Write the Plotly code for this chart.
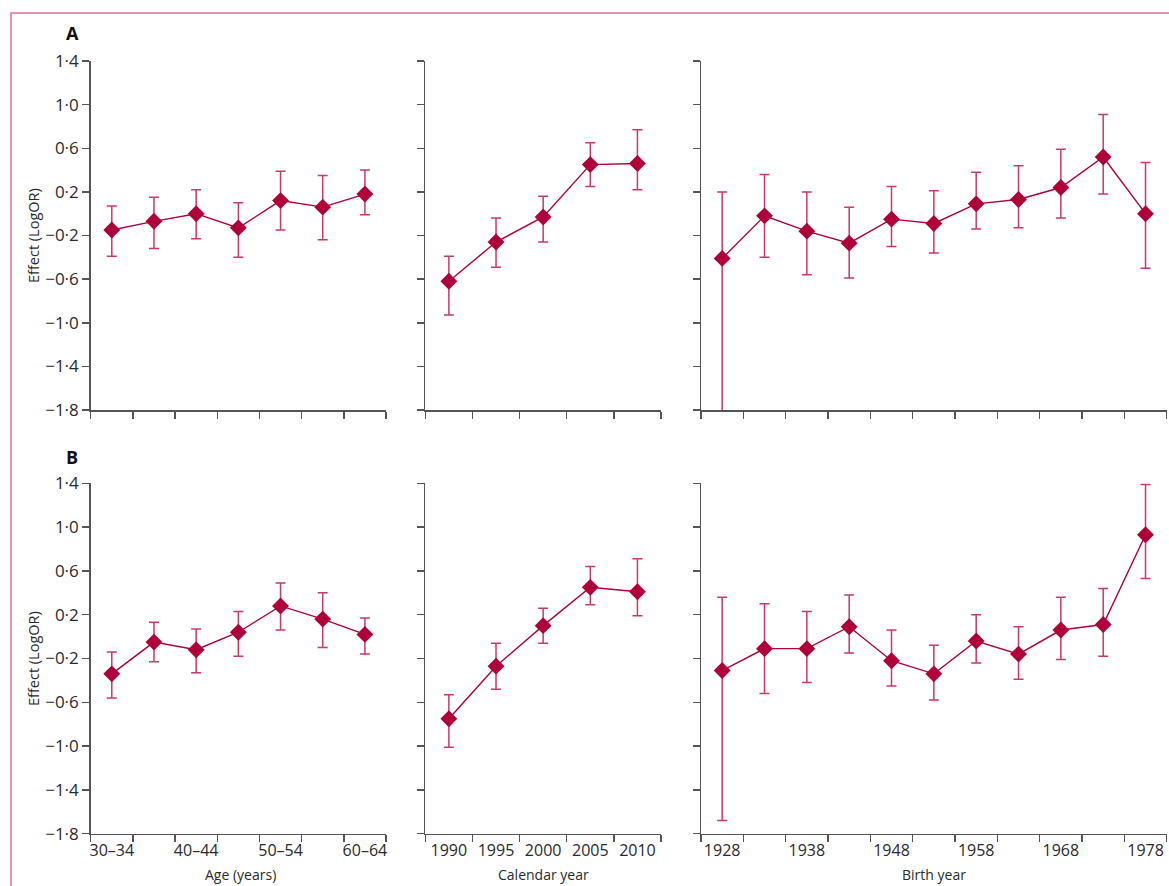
import plotly.graph_objects as go
from plotly.subplots import make_subplots

# ---------------- data ----------------
age_groups = ["30–34", "35–39", "40–44", "45–49", "50–54", "55–59", "60–64"]
age_labels_shown = ["30–34", "40–44", "50–54", "60–64"]
calendar_years = ["1990", "1995", "2000", "2005", "2010"]
birth_years = ["1928", "1933", "1938", "1943", "1948", "1953", "1958", "1963", "1968", "1973", "1978"]
birth_labels_shown = ["1928", "1938", "1948", "1958", "1968", "1978"]

# Panel A
a_age_est = [-0.15, -0.07, 0.00, -0.13, 0.12, 0.06, 0.18]
a_age_lo = [-0.39, -0.32, -0.23, -0.40, -0.15, -0.24, -0.01]
a_age_hi = [0.07, 0.15, 0.22, 0.10, 0.39, 0.35, 0.40]

a_cal_est = [-0.62, -0.26, -0.03, 0.45, 0.46]
a_cal_lo = [-0.93, -0.49, -0.26, 0.25, 0.22]
a_cal_hi = [-0.39, -0.04, 0.16, 0.65, 0.77]

a_birth_est = [-0.41, -0.02, -0.16, -0.27, -0.05, -0.09, 0.09, 0.13, 0.24, 0.52, 0.00]
a_birth_lo = [-1.95, -0.40, -0.56, -0.59, -0.30, -0.36, -0.14, -0.13, -0.04, 0.18, -0.50]
a_birth_hi = [0.20, 0.36, 0.20, 0.06, 0.25, 0.21, 0.38, 0.44, 0.59, 0.91, 0.47]

# Panel B
b_age_est = [-0.34, -0.05, -0.12, 0.04, 0.28, 0.16, 0.02]
b_age_lo = [-0.56, -0.23, -0.33, -0.18, 0.06, -0.10, -0.16]
b_age_hi = [-0.14, 0.13, 0.07, 0.23, 0.49, 0.40, 0.17]

b_cal_est = [-0.75, -0.27, 0.10, 0.45, 0.41]
b_cal_lo = [-1.01, -0.48, -0.06, 0.29, 0.19]
b_cal_hi = [-0.53, -0.06, 0.26, 0.64, 0.71]

b_birth_est = [-0.31, -0.11, -0.11, 0.09, -0.22, -0.34, -0.04, -0.16, 0.06, 0.11, 0.93]
b_birth_lo = [-1.68, -0.52, -0.42, -0.15, -0.45, -0.58, -0.24, -0.39, -0.21, -0.18, 0.53]
b_birth_hi = [0.36, 0.30, 0.23, 0.38, 0.06, -0.08, 0.20, 0.09, 0.36, 0.44, 1.39]

y_ticks = [-1.8, -1.4, -1.0, -0.6, -0.2, 0.2, 0.6, 1.0, 1.4]
y_ticktext = ["−1·8", "−1·4", "−1·0", "−0·6", "−0·2", "0·2", "0·6", "1·0", "1·4"]

# ---------------- styling ----------------
W, H = 1169, 886
MARK = "#B0003A"
ERR = "#C93A64"
AX = "#555555"
TXT = "#2a2a2a"
FONT = "Open Sans"

def px_x(p):
    return p / W

def px_y(p):
    return 1 - p / H

col_dom = [
    [px_x(90.7), px_x(386.0)],
    [px_x(425.3), px_x(661.0)],
    [px_x(701.0), px_x(1166.7)],
]
row_dom = [
    [px_y(410.0), px_y(61.0)],
    [px_y(833.7), px_y(483.3)],
]

fig = make_subplots(rows=2, cols=3)

panels = [
    (1, 1, age_groups, a_age_est, a_age_lo, a_age_hi),
    (1, 2, calendar_years, a_cal_est, a_cal_lo, a_cal_hi),
    (1, 3, birth_years, a_birth_est, a_birth_lo, a_birth_hi),
    (2, 1, age_groups, b_age_est, b_age_lo, b_age_hi),
    (2, 2, calendar_years, b_cal_est, b_cal_lo, b_cal_hi),
    (2, 3, birth_years, b_birth_est, b_birth_lo, b_birth_hi),
]

shown = {1: age_labels_shown, 2: calendar_years, 3: birth_labels_shown}

for r, c, cats, est, lo, hi in panels:
    xs = list(range(len(cats)))
    fig.add_trace(
        go.Scatter(
            x=xs,
            y=est,
            mode="lines+markers",
            line=dict(color=MARK, width=1.4),
            marker=dict(symbol="diamond", size=13, color=MARK),
            error_y=dict(
                type="data",
                symmetric=False,
                array=[h - e for h, e in zip(hi, est)],
                arrayminus=[e - l for e, l in zip(est, lo)],
                color=ERR,
                thickness=1.5,
                width=5,
            ),
            showlegend=False,
            hoverinfo="skip",
        ),
        row=r,
        col=c,
    )
    n = len(cats)
    lab_vals = [i for i, k in enumerate(cats) if k in shown[c]]
    lab_text = [cats[i] for i in lab_vals]
    fig.update_xaxes(
        domain=col_dom[c - 1],
        range=[-0.5, n - 0.5],
        tickmode="array",
        tickvals=lab_vals,
        ticktext=lab_text,
        ticks="",
        showticklabels=(r == 2),
        ticklabelstandoff=2,
        tickfont=dict(family=FONT, size=16, color=TXT),
        minor=dict(
            tickmode="array",
            tickvals=[i - 0.5 for i in range(n + 1)],
            ticks="outside",
            ticklen=7,
            tickwidth=1.5,
            tickcolor=AX,
            showgrid=False,
        ),
        showline=True,
        linecolor=AX,
        linewidth=1.5,
        showgrid=False,
        zeroline=False,
        fixedrange=True,
        automargin=False,
        row=r,
        col=c,
    )
    fig.update_yaxes(
        domain=row_dom[r - 1],
        range=[-1.8, 1.4],
        tickmode="array",
        tickvals=y_ticks,
        ticktext=y_ticktext,
        showticklabels=(c == 1),
        ticks="outside",
        ticklen=7,
        tickwidth=1.5,
        tickcolor=AX,
        tickfont=dict(family=FONT, size=17, color=TXT),
        showline=True,
        linecolor=AX,
        linewidth=1.5,
        showgrid=False,
        zeroline=False,
        fixedrange=True,
        automargin=False,
        row=r,
        col=c,
    )

annotations = [
    dict(text="<b>A</b>", x=px_x(72), y=px_y(33), font=dict(family=FONT, size=18, color="#111")),
    dict(text="<b>B</b>", x=px_x(72), y=px_y(457), font=dict(family=FONT, size=18, color="#111")),
    dict(text="Age (years)", x=px_x(240), y=px_y(874), font=dict(family=FONT, size=14, color=TXT)),
    dict(text="Calendar year", x=px_x(543), y=px_y(874), font=dict(family=FONT, size=14, color=TXT)),
    dict(text="Birth year", x=px_x(934), y=px_y(874), font=dict(family=FONT, size=14, color=TXT)),
    dict(text="Effect (LogOR)", x=px_x(33), y=px_y(236), textangle=-90,
         font=dict(family=FONT, size=14.5, color=TXT)),
    dict(text="Effect (LogOR)", x=px_x(33), y=px_y(659), textangle=-90,
         font=dict(family=FONT, size=14.5, color=TXT)),
]
for a in annotations:
    a.update(xref="paper", yref="paper", showarrow=False, xanchor="center", yanchor="middle")

fig.update_layout(
    width=W,
    height=H,
    margin=dict(l=0, r=0, t=0, b=0, autoexpand=False),
    paper_bgcolor="white",
    plot_bgcolor="white",
    annotations=annotations,
    shapes=[
        dict(
            type="rect",
            xref="paper",
            yref="paper",
            x0=px_x(11),
            y0=-0.05,
            x1=1.05,
            y1=px_y(13),
            line=dict(color="#E0708E", width=1.5),
            fillcolor="rgba(0,0,0,0)",
            layer="below",
        )
    ],
)

fig.write_html(
    "out.html",
    config={"displayModeBar": False, "staticPlot": True},
    post_script=(
        "document.documentElement.style.margin='0';"
        "document.body.style.margin='0';"
        "document.documentElement.style.overflow='hidden';"
        "document.body.style.overflow='hidden';"
    ),
)
